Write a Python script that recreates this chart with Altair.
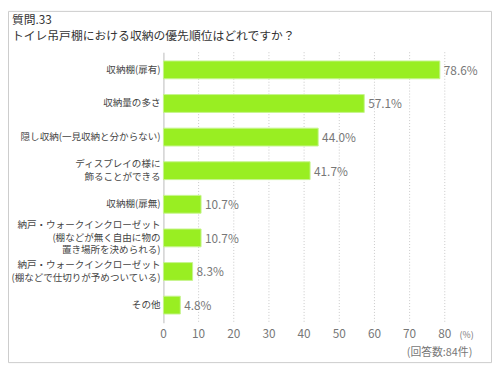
import altair as alt
import pandas as pd

categories = [
    "収納棚(扉有)",
    "収納量の多さ",
    "隠し収納(一見収納と分からない)",
    "ディスプレイの様に\n飾ることができる",
    "収納棚(扉無)",
    "納戸・ウォークインクローゼット\n(棚などが無く自由に物の\n置き場所を決められる)",
    "納戸・ウォークインクローゼット\n(棚などで仕切りが予めついている)",
    "その他",
]
values = [78.6, 57.1, 44.0, 41.7, 10.7, 10.7, 8.3, 4.8]
x_ticks = [0, 10, 20, 30, 40, 50, 60, 70, 80]
title_line1 = "質問.33"
title_line2 = "トイレ吊戸棚における収納の優先順位はどれですか？"
unit_label = "(%)"
footnote = "(回答数:84件)"

FONT = "Noto Sans CJK JP"
W, H = 286, 275
LH = 12.7
PI, PO = 0.47, 0.26
STEP = H / (len(categories) - PI + 2 * PO)
HALF_BAND = STEP * (1 - PI) / 2

df = pd.DataFrame({"cat": categories, "val": values})
tdf = pd.DataFrame({"tick": x_ticks})

# one row per label line, so that multi-line labels can be centred on their bar
rows = []
for c in categories:
    parts = c.split("\n")
    for i, p in enumerate(parts):
        rows.append({"cat": c, "line": p, "idx": i, "n": len(parts)})
ldf = pd.DataFrame(rows)

x_scale = alt.Scale(domain=[0, 80], nice=False, zero=True)
x_enc = alt.X("val:Q", scale=x_scale,
              axis=alt.Axis(title=None, ticks=False, grid=False, labels=False,
                            domainColor="#bbbbbb"))
y_enc = alt.Y("cat:N", sort=categories,
              scale=alt.Scale(paddingInner=PI, paddingOuter=PO),
              axis=alt.Axis(title=None, ticks=False, labels=False, domainColor="#bbbbbb"))

grid = alt.Chart(tdf).transform_filter("datum.tick > 0").mark_rule(
    color="#c8c8c8", strokeDash=[1, 2], strokeWidth=1
).encode(x=alt.X("tick:Q", scale=x_scale, axis=None), y=alt.value(0), y2=alt.value(H))

ticklabels = alt.Chart(tdf).mark_text(
    align="center", baseline="middle", fontSize=12, font=FONT, color="#777777"
).encode(x=alt.X("tick:Q", scale=x_scale, axis=None), y=alt.value(H + 12),
         text="tick:N")

bars = alt.Chart(df).mark_bar(color="#99ee22", stroke="#c6f48e", strokeWidth=1).encode(
    x=x_enc, y=y_enc)

labels = alt.Chart(df).transform_calculate(
    lbl="format(datum.val, '.1f') + '%'"
).mark_text(align="left", baseline="middle", dx=4, dy=1, fontSize=12, font=FONT,
            color="#777777").encode(x=x_enc, y=y_enc, text="lbl:N")

ylabels = alt.Chart(ldf).transform_calculate(
    off=f"(datum.idx - (datum.n - 1) / 2) * {LH} + {HALF_BAND}"
).mark_text(align="right", baseline="middle", fontSize=9.7, font=FONT,
            color="#444444").encode(
    x=alt.value(-3), y=y_enc, yOffset=alt.YOffset("off:Q", scale=None), text="line:N")

title1 = alt.Chart(pd.DataFrame({"t": [title_line1]})).mark_text(
    align="left", baseline="middle", fontSize=12, font=FONT, color="#333333"
).encode(x=alt.value(-154), y=alt.value(-33), text="t:N")

title2 = alt.Chart(pd.DataFrame({"t": [title_line2]})).mark_text(
    align="left", baseline="middle", fontSize=12, font=FONT, color="#333333"
).encode(x=alt.value(-154), y=alt.value(-16.5), text="t:N")

unit = alt.Chart(pd.DataFrame({"t": [unit_label]})).mark_text(
    align="left", baseline="middle", fontSize=9, font=FONT, color="#777777"
).encode(x=alt.value(301), y=alt.value(H + 12), text="t:N")

foot = alt.Chart(pd.DataFrame({"t": [footnote]})).mark_text(
    align="right", baseline="middle", fontSize=11, font=FONT, color="#777777"
).encode(x=alt.value(314), y=alt.value(H + 31), text="t:N")

border = alt.Chart(pd.DataFrame({"t": [0]})).mark_rect(
    fill="transparent", stroke="#cccccc", strokeWidth=1
).encode(x=alt.value(-157.5), x2=alt.value(W + 48 - 0.5),
         y=alt.value(-41.5), y2=alt.value(H + 41 - 0.5))

chart = alt.layer(border, grid, bars, labels, ylabels, ticklabels,
                  title1, title2, unit, foot).properties(
    width=W, height=H,
    autosize=alt.AutoSizeParams(type="none"),
    padding={"left": 158, "top": 42, "right": 48, "bottom": 41},
    background="white",
).configure_view(stroke=None)

chart.save("out.html", embed_options={"renderer": "svg", "actions": False})
